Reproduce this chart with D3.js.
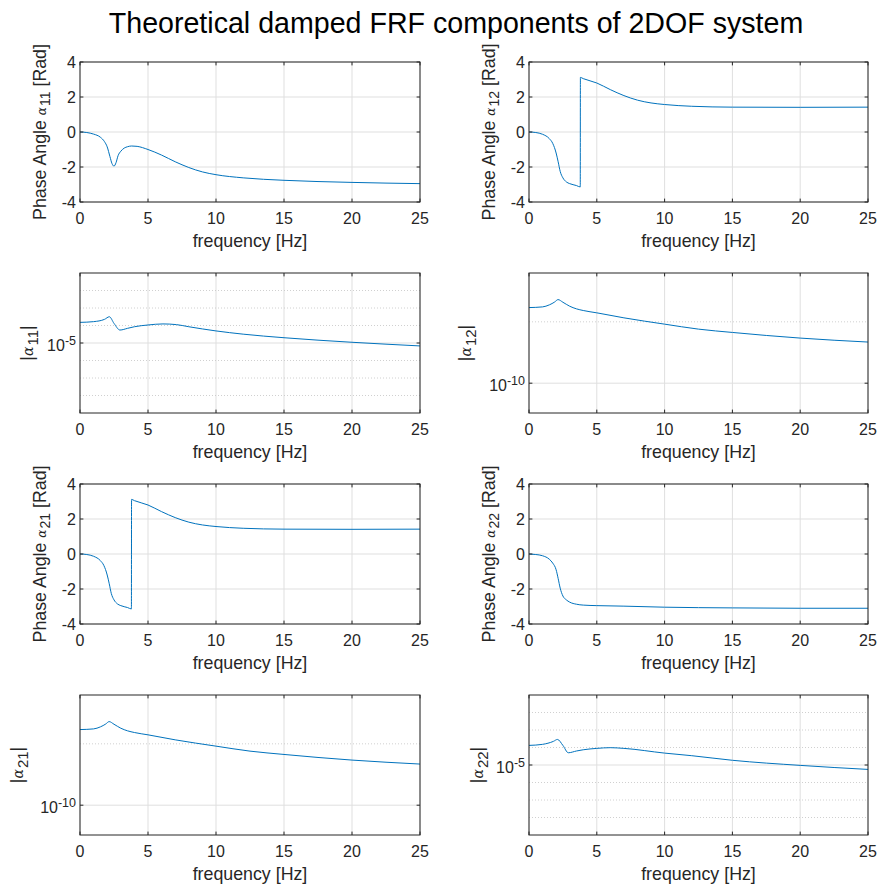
<!DOCTYPE html>
<meta charset="utf-8">
<script src="https://d3js.org/d3.v7.min.js"></script>
<style>
  body { margin: 0; background: #fff; }
  text { font-family: 'Liberation Sans', Arial, sans-serif; fill: #262626; }
</style>
<body>
<div id="my_dataviz"></div>
<script>

// ---- values ----

// phase of alpha 11 [rad]
var fP11 = [0, 0.5, 1, 1.5, 1.8, 2, 2.2, 2.35, 2.5, 2.65, 2.8, 3, 3.25, 3.5, 3.8, 4.2, 5, 6, 7, 8, 9, 10, 12, 15, 20, 25];
var p11  = [0, -0.03, -0.12, -0.3, -0.55, -0.85, -1.4, -1.8, -1.95, -1.75, -1.35, -1.1, -0.92, -0.84, -0.8, -0.82, -1.0, -1.32, -1.7, -2.03, -2.28, -2.44, -2.62, -2.76, -2.88, -2.95];

// phase of alpha 12 (alpha 21 is drawn the same)
var fP12 = [0, 0.5, 1, 1.5, 1.75, 2, 2.15, 2.3, 2.5, 2.75, 3, 3.5, 3.78, 3.79, 4, 5, 6, 7, 8, 9, 10, 12, 15, 20, 25];
var p12  = [0, -0.03, -0.13, -0.38, -0.65, -1.2, -1.7, -2.25, -2.62, -2.85, -2.95, -3.06, -3.14, 3.12, 3.05, 2.8, 2.42, 2.08, 1.82, 1.66, 1.57, 1.47, 1.42, 1.41, 1.42];
var fP21 = fP12;
var p21  = p12;

// phase of alpha 22
var fP22 = [0, 0.5, 1, 1.5, 1.75, 2, 2.15, 2.3, 2.5, 2.75, 3, 3.5, 4, 5, 7, 10, 15, 20, 25];
var p22  = [0, -0.03, -0.1, -0.3, -0.52, -0.9, -1.4, -1.95, -2.4, -2.62, -2.75, -2.87, -2.92, -2.95, -2.98, -3.04, -3.08, -3.1, -3.1];

// magnitude of alpha 11
var fM11 = [0, 1, 1.8, 2.16, 2.5, 2.94, 3.5, 4, 5, 6.1, 7.1, 8, 10, 12, 15, 20, 25];
var m11  = [1.51e-4, 1.66e-4, 2.24e-4, 3.16e-4, 1.32e-4, 5.5e-5, 6.9e-5, 8.5e-5, 1.07e-4, 1.23e-4, 1.12e-4, 8.5e-5, 4.9e-5, 3.2e-5, 2.0e-5, 1.1e-5, 6.8e-6];

// magnitude of alpha 12 (alpha 21 is drawn the same)
var fM12 = [0, 1, 1.5, 1.9, 2.14, 2.5, 3, 3.5, 4, 5, 7, 10, 12.5, 15, 20, 25];
var m12  = [1.706e-9, 1.75e-9, 1.888e-9, 2.108e-9, 2.301e-9, 2.084e-9, 1.795e-9, 1.626e-9, 1.528e-9, 1.4e-9, 1.161e-9, 9.16e-10, 7.6e-10, 6.71e-10, 5.43e-10, 4.68e-10];
var fM21 = fM12;
var m21  = m12;

// magnitude of alpha 22
var fM22 = [0, 1, 1.8, 2.1, 2.5, 2.9, 3.5, 4, 5, 6, 7, 10, 12, 15, 20, 25];
var m22  = [1.318e-4, 1.514e-4, 2.239e-4, 2.884e-4, 1.318e-4, 5.01e-5, 6.31e-5, 7.41e-5, 8.91e-5, 9.77e-5, 8.91e-5, 4.79e-5, 3.4e-5, 1.86e-5, 9.5e-6, 5.6e-6];

// axis ticks
var xTicks = [0, 5, 10, 15, 20, 25];
var phaseTicks = [-4, -2, 0, 2, 4];
var magTicksBig = [1e-5];
var magTicksSmall = [1e-10];

var title = "Theoretical damped FRF components of 2DOF system";

// ---- layout ----
var W = 881, H = 884;
var colX = [80, 529], colW = [340, 339];
var rowY = [62, 273, 484, 695], plotH = 140;

var panels = [
  {c: 0, r: 0, kind: "phase", f: fP11, v: p11, sub: "11"},
  {c: 1, r: 0, kind: "phase", f: fP12, v: p12, sub: "12"},
  {c: 0, r: 1, kind: "mag", f: fM11, v: m11, sub: "11", dom: [1e-9, 1e-1], ticks: magTicksBig, lab: 47},
  {c: 1, r: 1, kind: "mag", f: fM12, v: m12, sub: "12", dom: [3.27e-11, 6.24e-9], ticks: magTicksSmall, lab: 58},
  {c: 0, r: 2, kind: "phase", f: fP21, v: p21, sub: "21"},
  {c: 1, r: 2, kind: "phase", f: fP22, v: p22, sub: "22"},
  {c: 0, r: 3, kind: "mag", f: fM21, v: m21, sub: "21", dom: [3.27e-11, 6.24e-9], ticks: magTicksSmall, lab: 57},
  {c: 1, r: 3, kind: "mag", f: fM22, v: m22, sub: "22", dom: [1e-9, 1e-1], ticks: magTicksBig, lab: 46}
];

var svg = d3.select("#my_dataviz")
  .append("svg")
    .attr("width", W)
    .attr("height", H);

svg.append("rect").attr("width", W).attr("height", H).attr("fill", "#fff");

svg.append("text")
  .attr("x", 456)
  .attr("y", 33)
  .attr("text-anchor", "middle")
  .style("font-size", "28.6px")
  .style("fill", "#000")
  .text(title);

var gridCol = "#dfdfdf", minorCol = "#c4c4c4", axCol = "#262626", lineCol = "#0072BD";
var serif = "'DejaVu Serif', 'Liberation Serif', serif";

panels.forEach(function(p) {
  var x0 = colX[p.c], w = colW[p.c], y0 = rowY[p.r];
  var g = svg.append("g").attr("transform", "translate(" + x0 + "," + y0 + ")");

  var x = d3.scaleLinear().domain([0, 25]).range([0, w]);
  var y;
  if (p.kind == "phase") {
    y = d3.scaleLinear().domain([-4, 4]).range([plotH, 0]);
  } else {
    y = d3.scaleLog().domain(p.dom).range([plotH, 0]);
  }

  // grid
  xTicks.forEach(function(t) {
    g.append("line").attr("x1", x(t)).attr("x2", x(t)).attr("y1", 0).attr("y2", plotH)
      .attr("stroke", gridCol).attr("stroke-width", 1);
  });
  if (p.kind == "phase") {
    phaseTicks.forEach(function(t) {
      g.append("line").attr("x1", 0).attr("x2", w).attr("y1", y(t)).attr("y2", y(t))
        .attr("stroke", gridCol).attr("stroke-width", 1);
    });
  } else {
    var e0 = Math.ceil(Math.log10(p.dom[0]) - 1e-9), e1 = Math.floor(Math.log10(p.dom[1]) + 1e-9);
    for (var e = e0; e <= e1; e++) {
      var v = Math.pow(10, e);
      var major = p.ticks.some(function(t) { return Math.abs(Math.log10(t) - e) < 1e-6; });
      if (e == Math.log10(p.dom[0]) || e == Math.log10(p.dom[1])) continue;
      g.append("line").attr("x1", 0).attr("x2", w).attr("y1", y(v)).attr("y2", y(v))
        .attr("stroke", major ? gridCol : minorCol)
        .attr("stroke-width", major ? 1 : 0.8)
        .attr("stroke-dasharray", major ? null : "1,2");
    }
  }

  // curve
  var pts = p.f.map(function(f, i) { return [f, p.v[i]]; });
  var line = d3.line()
    .x(function(d) { return x(d[0]); })
    .y(function(d) { return y(d[1]); })
    .curve(d3.curveMonotoneX);
  g.append("path").datum(pts)
    .attr("d", line)
    .attr("fill", "none")
    .attr("stroke", lineCol)
    .attr("stroke-width", 1);

  // box and inward ticks
  g.append("rect").attr("x", 0).attr("y", 0).attr("width", w).attr("height", plotH)
    .attr("fill", "none").attr("stroke", axCol).attr("stroke-width", 1);
  var tl = 3.4;
  xTicks.forEach(function(t) {
    g.append("line").attr("x1", x(t)).attr("x2", x(t)).attr("y1", plotH).attr("y2", plotH - tl).attr("stroke", axCol);
    g.append("line").attr("x1", x(t)).attr("x2", x(t)).attr("y1", 0).attr("y2", tl).attr("stroke", axCol);
    g.append("text")
      .attr("x", x(t)).attr("y", plotH + 22)
      .attr("text-anchor", "middle")
      .style("font-size", "16px")
      .text(t);
  });

  var yT = p.kind == "phase" ? phaseTicks : p.ticks;
  yT.forEach(function(t) {
    g.append("line").attr("x1", 0).attr("x2", tl).attr("y1", y(t)).attr("y2", y(t)).attr("stroke", axCol);
    g.append("line").attr("x1", w).attr("x2", w - tl).attr("y1", y(t)).attr("y2", y(t)).attr("stroke", axCol);
    var tx = g.append("text")
      .attr("x", -4).attr("y", y(t))
      .attr("text-anchor", "end")
      .attr("dy", "0.35em")
      .style("font-size", "16px");
    if (p.kind == "phase") {
      tx.text(t);
    } else {
      tx.attr("dy", "0.5em");
      tx.append("tspan").text("10");
      tx.append("tspan").attr("dy", -6).style("font-size", "12.5px").text(Math.round(Math.log10(t)));
    }
  });

  // x label
  g.append("text")
    .attr("x", w / 2).attr("y", plotH + 45)
    .attr("text-anchor", "middle")
    .style("font-size", "17.8px")
    .text("frequency [Hz]");

  // y label
  var lx = p.kind == "phase" ? -34 : -p.lab;
  var yl = g.append("text")
    .attr("transform", "translate(" + lx + "," + (plotH / 2) + ") rotate(-90)")
    .attr("text-anchor", "middle")
    .style("font-size", "17.8px");
  if (p.kind == "phase") {
    yl.append("tspan").text("Phase Angle ");
    yl.append("tspan").style("font-family", serif).style("font-style", "italic").style("font-size", "12px").text("\u03b1");
    yl.append("tspan").attr("dy", 4).attr("dx", 1).style("font-size", "14px").text(p.sub);
    yl.append("tspan").attr("dy", -4).text(" [Rad]");
  } else {
    yl.append("tspan").style("font-size", "18px").text("|");
    yl.append("tspan").style("font-family", serif).style("font-style", "italic").style("font-size", "14px").text("\u03b1");
    yl.append("tspan").attr("dy", 5).attr("dx", 1).style("font-size", "15px").text(p.sub);
    yl.append("tspan").attr("dy", -5).style("font-size", "18px").text("|");
  }
});

</script>
</body>
